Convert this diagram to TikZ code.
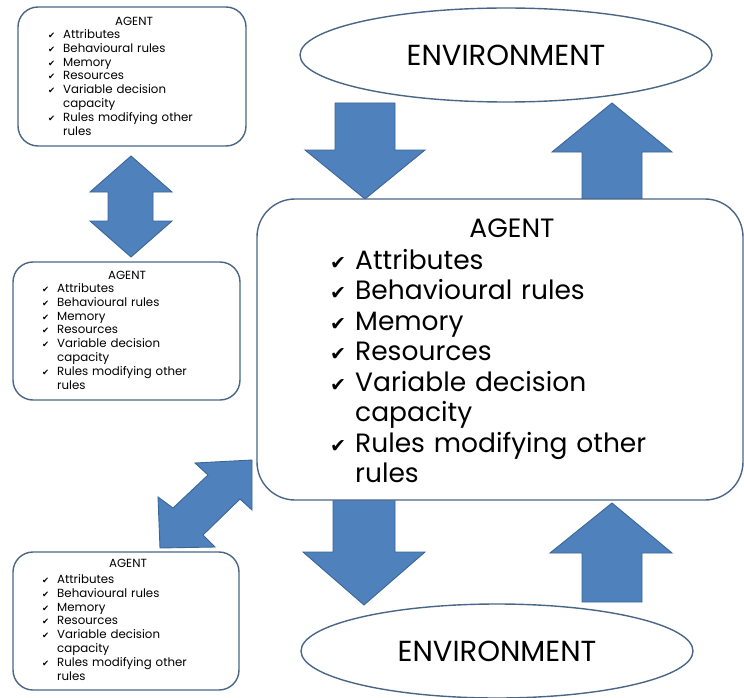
\documentclass[tikz,border=0pt]{standalone}
\usepackage{fontspec}
\setmainfont{Poppins}
\newfontfamily\chkfont{DejaVu Sans}
\usetikzlibrary{shapes.geometric}
\definecolor{arrowblue}{HTML}{4F81BD}
\definecolor{arrowedge}{HTML}{3C6695}
\definecolor{boxedge}{HTML}{4A6687}
\newlength\chkind
\newcommand\ci{\hangindent=\chkind\hangafter=1\noindent\makebox[\chkind][l]{\chkfont\scalebox{0.72}{\char"2714}}}
\newcommand\agentlist{\raggedright\ci Attributes\par\ci Behavioural rules\par\ci Memory\par\ci Resources\par\ci Variable decision\newline capacity\par\ci Rules modifying other\newline rules\par}
\tikzset{
  blockarrow/.style={fill=arrowblue, draw=arrowedge, line width=0.9pt, line join=miter},
  agentbox/.style={draw=boxedge, fill=white, line width=1.4pt, rectangle, inner sep=0pt},
  envshape/.style={draw=boxedge, fill=white, line width=1.4pt, ellipse, inner sep=0pt, font=\fontsize{29}{32}\selectfont},
  smalllist/.style={inner sep=0pt, anchor=base west, text width=200pt, font=\fontsize{11.8}{13.8}\selectfont\setlength\chkind{15pt}},
  biglist/.style={inner sep=0pt, anchor=base west, text width=400pt, font=\fontsize{26.5}{30.5}\selectfont\setlength\chkind{25pt}},
  smalltitle/.style={inner sep=0pt, anchor=base, font=\fontsize{11.8}{13.8}\selectfont},
  bigtitle/.style={inner sep=0pt, anchor=base, font=\fontsize{26.5}{30.5}\selectfont}
}
\begin{document}
\begin{tikzpicture}[x=1pt,y=-1pt]
\useasboundingbox[fill=white] (0,0) rectangle (744,698);
% block arrows
\fill[blockarrow] (335,103)--(395,103)--(395,150)--(425,150)--(365,199)--(305,150)--(335,150)--cycle;
\fill[blockarrow] (612,103)--(672,152)--(642,152)--(642,199)--(582,199)--(582,152)--(552,152)--cycle;
\fill[blockarrow] (333,500)--(395,500)--(395,552)--(425,552)--(364,605)--(303,552)--(333,552)--cycle;
\fill[blockarrow] (612,503)--(672,553)--(642,553)--(642,602)--(582,602)--(582,553)--(550,553)--cycle;
\fill[blockarrow] (131,156)--(172,192)--(153,192)--(153,221)--(172,221)--(131,257)--(90,221)--(108,221)--(108,192)--(90,192)--cycle;
\fill[blockarrow] (252,460)--(252,510)--(240,499)--(203,535)--(215,547)--(160,548)--(158,497)--(173,508)--(208,475)--(195,463)--cycle;
% environments
\node[envshape, minimum width=412pt, minimum height=94pt] (envtop) at (506,55) {ENVIRONMENT};
\node[envshape, minimum width=392pt, minimum height=94pt] (envbot) at (497,651) {ENVIRONMENT};
% central agent
\node[agentbox, rounded corners=38pt, minimum width=486pt, minimum height=301pt] (main) at (500,349.5) {};
\node[bigtitle] (maintitle) at (512,237) {AGENT};
\node[biglist] (mainlist) at (330,269) {\agentlist};
% small agents
\node[agentbox, rounded corners=20pt, minimum width=228pt, minimum height=139pt] (a1) at (132,76.5) {};
\node[smalltitle] (a1t) at (134,25.5) {AGENT};
\node[smalllist] (a1l) at (48,38.5) {\agentlist};
\node[agentbox, rounded corners=20pt, minimum width=227pt, minimum height=138pt] (a2) at (126.5,331) {};
\node[smalltitle] (a2t) at (127,279.5) {AGENT};
\node[smalllist] (a2l) at (42,292.5) {\agentlist};
\node[agentbox, rounded corners=20pt, minimum width=226pt, minimum height=138pt] (a3) at (126,621) {};
\node[smalltitle] (a3t) at (128,567.5) {AGENT};
\node[smalllist] (a3l) at (42,583.5) {\agentlist};
\end{tikzpicture}
\end{document}
